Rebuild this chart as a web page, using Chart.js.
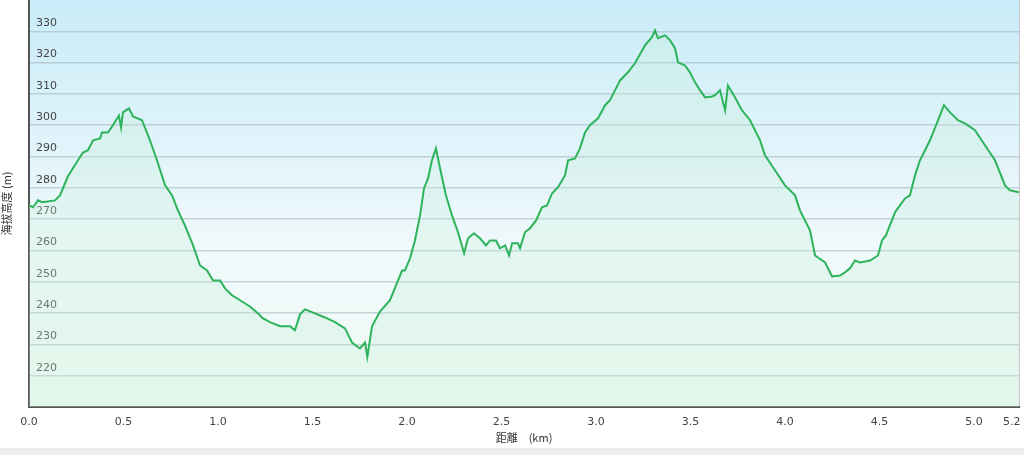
<!DOCTYPE html>
<html><head><meta charset="utf-8">
<script src="https://cdn.jsdelivr.net/npm/chart.js@4/dist/chart.umd.min.js"></script>
<style>html,body{margin:0;padding:0;background:#fff}#w{width:1024px;height:448px;border-bottom:7px solid #eeeeee}</style>
</head><body><div id="w"><canvas id="c"></canvas></div>
<script>
const distances=[0,.021,.048,.069,.138,.164,.206,.259,.286,.312,.339,.376,.386,.418,.444,.476,.487,.497,.529,.550,.598,.640,.677,.720,.757,.788,.825,.868,.905,.942,.974,1.011,1.037,1.074,1.116,1.169,1.212,1.238,1.275,1.328,1.381,1.407,1.434,1.460,1.513,1.566,1.619,1.672,1.709,1.751,1.778,1.79,1.815,1.857,1.910,1.952,1.974,1.989,2.016,2.042,2.069,2.090,2.111,2.132,2.153,2.175,2.206,2.238,2.270,2.302,2.323,2.354,2.386,2.418,2.439,2.471,2.492,2.519,2.540,2.556,2.587,2.598,2.624,2.651,2.683,2.714,2.741,2.767,2.799,2.836,2.852,2.889,2.915,2.942,2.968,3.011,3.048,3.074,3.101,3.127,3.169,3.206,3.259,3.296,3.312,3.328,3.365,3.392,3.418,3.434,3.471,3.497,3.524,3.550,3.577,3.614,3.630,3.656,3.683,3.698,3.735,3.772,3.815,3.868,3.894,3.947,4.000,4.053,4.079,4.132,4.159,4.212,4.249,4.291,4.317,4.344,4.370,4.397,4.450,4.492,4.513,4.534,4.561,4.582,4.608,4.635,4.661,4.688,4.714,4.741,4.767,4.810,4.841,4.873,4.915,4.952,5.005,5.058,5.111,5.164,5.190,5.238];
const elevations=[274.4,273.8,276,275.4,276,277.6,283.7,288.8,291.3,292,295.2,295.8,297.7,297.7,300,303.1,299.3,304.1,305.4,302.8,301.6,295.2,288.8,280.8,277.6,272.8,268,261.6,255.2,253.6,250.4,250.4,247.9,245.7,244.1,242.1,239.9,238.3,237.1,235.8,235.8,234.5,239.6,241.2,239.9,238.6,237.1,235.1,230.6,228.7,230.6,226,235.8,240.5,244.1,250.4,253.6,253.6,257.5,263.2,271.2,279.8,283.0,288.8,292.6,286.2,277.6,271.2,265.8,259.1,263.9,265.5,263.9,261.6,263.2,263.2,260.7,261.6,258.4,262.3,262.3,260.7,265.8,267.1,269.6,273.8,274.4,278.2,280.2,284,288.8,289.4,292.6,297.7,300,302.2,306.4,308,311.2,314.3,316.9,319.8,325.5,328.1,330.3,327.8,328.7,327.1,324.6,320.1,319.1,316.9,313.7,311.2,308.9,309.2,309.6,311.2,304.8,312.7,308.9,304.8,301.6,295.2,290.4,285.6,280.8,277.6,272.8,266.4,258.4,256.2,251.7,252,253,254.3,256.8,256.2,256.8,258.4,263.2,264.8,269,272.2,274.4,276.6,277.6,284,288.8,292,295.2,301.6,306.4,304.1,301.6,300.6,298.4,293.6,288.8,280.8,279.2,278.6];
const xTicks=[0,0.5,1,1.5,2,2.5,3,3.5,4,4.5,5,5.2];
const yTicks=[220,230,240,250,260,270,280,290,300,310,320,330];
const pts=distances.map((d,i)=>({x:d,y:elevations[i]}));
const bg={id:'bg',beforeDraw(ch){const a=ch.chartArea,c=ch.ctx;const g=c.createLinearGradient(0,a.top,0,a.bottom);g.addColorStop(0,'#c9ecf8');g.addColorStop(0.6,'#f0f9fc');g.addColorStop(1,'#eefbf4');c.save();c.fillStyle=g;c.fillRect(a.left,a.top,a.right-a.left,a.bottom-a.top);c.strokeStyle='#c8c8c8';c.beginPath();c.moveTo(a.right+0.5,a.top);c.lineTo(a.right+0.5,a.bottom);c.stroke();c.restore();}};
new Chart(document.getElementById('c'),{type:'line',data:{datasets:[{data:pts,borderColor:'#2db35a',borderWidth:2,pointRadius:0,tension:0,fill:'origin',backgroundColor:'rgba(200,240,215,0.3)'}]},
options:{responsive:true,maintainAspectRatio:false,animation:false,layout:{autoPadding:false,padding:{right:5,top:0}},plugins:{legend:{display:false},tooltip:{enabled:false}},
scales:{x:{type:'linear',min:0,max:5.238,afterBuildTicks(s){s.ticks=xTicks.map(v=>({value:v}));},grid:{display:false,drawTicks:true,tickLength:5,tickColor:'#555'},border:{color:'#555',width:2},ticks:{autoSkip:false,maxRotation:0,padding:4,color:'#444',font:{family:'DejaVu Sans',size:11},callback:v=>v.toFixed(1)},title:{display:true,text:'距離　(km)',color:'#333',font:{family:'Noto Sans CJK JP',size:11},padding:{top:0}},afterFit(s){s.height=41;s.paddingLeft=0;s.paddingRight=0;}},
y:{z:1,min:210,max:340,afterBuildTicks(s){s.ticks=yTicks.map(v=>({value:v}));},grid:{color:'rgba(160,180,190,0.55)',lineWidth:1.5,drawTicks:false},border:{color:'#555',width:2},ticks:{mirror:true,padding:7,labelOffset:-8,color:'#444',font:{family:'DejaVu Sans',size:11}},title:{display:true,text:'海拔高度 (m)',color:'#333',font:{family:'Noto Sans CJK JP',size:11},padding:0},afterFit(s){s.width=29;s.paddingTop=0;s.paddingBottom=0;}}}},plugins:[bg]});
</script></body></html>
